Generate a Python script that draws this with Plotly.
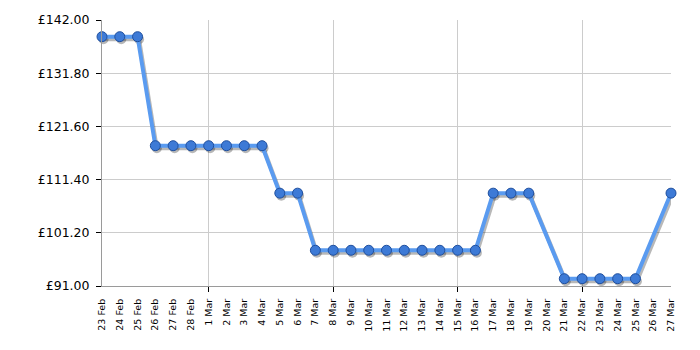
import pandas as pd
import plotly.graph_objects as go

# ---- data ----
dates = ["2025-02-23", "2025-02-24", "2025-02-25", "2025-02-26", "2025-02-27", "2025-02-28",
         "2025-03-01", "2025-03-02", "2025-03-03", "2025-03-04", "2025-03-05", "2025-03-06",
         "2025-03-07", "2025-03-08", "2025-03-09", "2025-03-10", "2025-03-11", "2025-03-12",
         "2025-03-13", "2025-03-14", "2025-03-15", "2025-03-16", "2025-03-17", "2025-03-18",
         "2025-03-19", "2025-03-21", "2025-03-22", "2025-03-23", "2025-03-24", "2025-03-25",
         "2025-03-27"]
prices = [138.8, 138.8, 138.8, 117.9, 117.9, 117.9,
          117.9, 117.9, 117.9, 117.9, 108.8, 108.8,
          97.85, 97.85, 97.85, 97.85, 97.85, 97.85,
          97.85, 97.85, 97.85, 97.85, 108.8, 108.8,
          108.8, 92.4, 92.4, 92.4, 92.4, 92.4,
          108.8]

label_dates = list(pd.date_range("2025-02-23", "2025-03-27", freq="D").strftime("%Y-%m-%d"))
label_text = [pd.Timestamp(d).strftime("%-d %b") for d in label_dates]
week_dates = ["2025-03-01", "2025-03-08", "2025-03-15", "2025-03-22"]
grid_dates = week_dates + ["2025-03-27"]

y_ticks = [91.0, 101.2, 111.4, 121.6, 131.8, 142.0]
y_text = ["£%.2f" % v for v in y_ticks]

# ---- layout geometry ----
W, H = 700, 350
ml, mr, mt, mb = 102, 29, 20, 64
x0, x1 = pd.Timestamp("2025-02-23"), pd.Timestamp("2025-03-27")
ymin, ymax = 91.0, 142.0
pw = W - ml - mr
ph = H - mt - mb
shift_x, shift_y = 1.5, 2.5
dx = (x1 - x0) * (shift_x / pw)
dy = (ymax - ymin) * (shift_y / ph)

font = "DejaVu Sans"

fig = go.Figure()

# helper traces so the base axes and overlay grid / tick axes are drawn
for ax in ("x", "x3", "x4"):
    fig.add_trace(go.Scatter(x=[dates[0]], y=[prices[0]], xaxis=ax, yaxis="y",
                             mode="markers", marker=dict(opacity=0),
                             hoverinfo="skip", showlegend=False))

# shadow (same data, drawn on offset overlay axes)
fig.add_trace(go.Scatter(
    x=dates, y=prices, xaxis="x2", yaxis="y2", mode="lines+markers",
    line=dict(color="rgba(0,0,0,0.28)", width=4),
    marker=dict(size=10, color="rgba(0,0,0,0.28)"),
    cliponaxis=False, hoverinfo="skip", showlegend=False))

# main series, on an overlay axis drawn after the shadow
fig.add_trace(go.Scatter(
    x=dates, y=prices, xaxis="x5", yaxis="y", mode="lines+markers",
    line=dict(color="#5a9bf0", width=4),
    marker=dict(size=10, color="#3d7ad6", line=dict(color="#1f4f9e", width=1)),
    cliponaxis=False, showlegend=False))

fig.update_layout(
    width=W, height=H,
    margin=dict(l=ml, r=mr, t=mt, b=mb, pad=0),
    paper_bgcolor="white", plot_bgcolor="white",
    font=dict(family=font, color="black"),
    xaxis=dict(
        type="date", range=[x0, x1], tickmode="array", tickvals=label_dates,
        ticktext=label_text, tickangle=-90, tickfont=dict(size=9.5, family=font),
        ticks="", showgrid=False, zeroline=False,
        showline=True, linecolor="#9a9a9a", linewidth=1, ticklabelstandoff=8),
    yaxis=dict(
        range=[ymin, ymax], tickmode="array", tickvals=y_ticks, ticktext=y_text,
        tickfont=dict(size=12.5, family=font), ticks="outside", ticklen=5,
        tickcolor="black", showgrid=True, gridcolor="#cccccc", gridwidth=1,
        zeroline=False, showline=True, linecolor="#9a9a9a", linewidth=1,
        ticklabelstandoff=4),
    xaxis2=dict(
        type="date", overlaying="x", range=[x0 - dx, x1 - dx], visible=False),
    yaxis2=dict(
        overlaying="y", range=[ymin + dy, ymax + dy], visible=False),
    xaxis3=dict(
        type="date", overlaying="x", range=[x0, x1], tickmode="array",
        tickvals=grid_dates, showticklabels=False, ticks="", showgrid=True,
        gridcolor="#cccccc", gridwidth=1, zeroline=False, showline=False),
    xaxis4=dict(
        type="date", overlaying="x", range=[x0, x1], tickmode="array",
        tickvals=week_dates, showticklabels=False, ticks="outside", ticklen=5,
        tickcolor="black", showgrid=False, zeroline=False, showline=False,
        side="bottom"),
    xaxis5=dict(
        type="date", overlaying="x", range=[x0, x1], visible=False),
)

fig.write_html("out.html")
